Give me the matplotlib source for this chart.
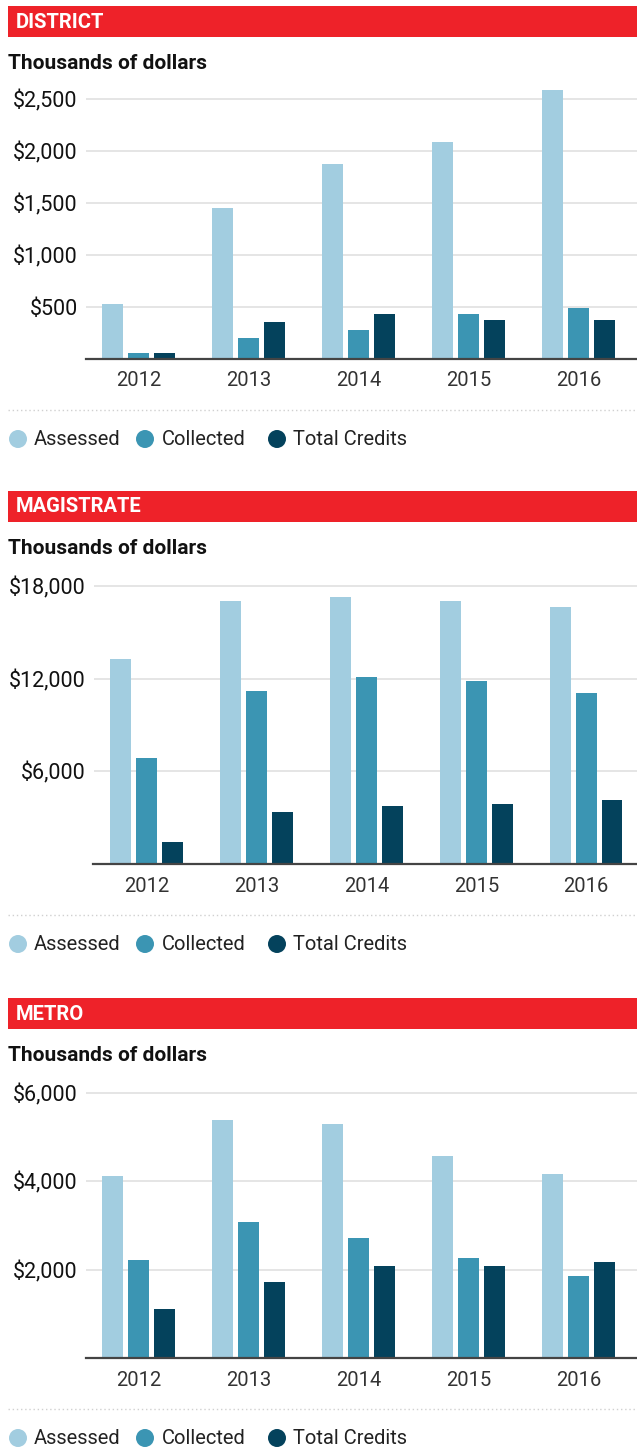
import matplotlib
matplotlib.use("Agg")
import matplotlib.pyplot as plt
from matplotlib.patches import Rectangle, Ellipse
from matplotlib.lines import Line2D
import numpy as np

plt.rcParams['font.family'] = ['Roboto', 'DejaVu Sans']

years = ["2012", "2013", "2014", "2015", "2016"]
series_names = ["Assessed", "Collected", "Total Credits"]
colors = ["#a2cde0", "#3b95b3", "#04425c"]

district_assessed = [530, 1455, 1875, 2090, 2590]
district_collected = [55, 205, 280, 435, 490]
district_credits = [55, 357, 433, 377, 377]

magistrate_assessed = [13250, 17000, 17270, 17000, 16620]
magistrate_collected = [6880, 11180, 12090, 11830, 11050]
magistrate_credits = [1400, 3345, 3735, 3865, 4120]

metro_assessed = [4120, 5390, 5300, 4580, 4170]
metro_collected = [2210, 3080, 2710, 2260, 1850]
metro_credits = [1120, 1710, 2080, 2080, 2170]

district_ticks = [500, 1000, 1500, 2000, 2500]
magistrate_ticks = [6000, 12000, 18000]
metro_ticks = [2000, 4000, 6000]

W, H = 637, 1448
fig = plt.figure(figsize=(W / 100, H / 100), dpi=100)


def fx(x):
    return x / W


def fy(y):
    return 1 - y / H


panels = [
    dict(title="DISTRICT", top=6, data=[district_assessed, district_collected, district_credits],
         ticks=district_ticks, left=86, grid_top=99, top_val=2500, base=359, ymax=2650,
         xlim=(-0.476, 4.529)),
    dict(title="MAGISTRATE", top=491, data=[magistrate_assessed, magistrate_collected, magistrate_credits],
         ticks=magistrate_ticks, left=93.5, grid_top=586, top_val=18000, base=864, ymax=18250,
         xlim=(-0.483, 4.462)),
    dict(title="METRO", top=998, data=[metro_assessed, metro_collected, metro_credits],
         ticks=metro_ticks, left=86, grid_top=1093, top_val=6000, base=1358, ymax=6100,
         xlim=(-0.476, 4.529)),
]

bar_w = 0.19
offset = 0.235

for p in panels:
    t = p["top"]
    # red banner
    fig.patches.append(Rectangle((fx(8), fy(t + 31)), fx(629), 31 / H, transform=fig.transFigure,
                                 facecolor="#ee2229", edgecolor="none"))
    fig.text(fx(16), fy(t + 16), p["title"], color="white", fontsize=14.5, fontweight="bold",
             va="center", ha="left")
    fig.text(fx(8), fy(t + 57.5), "Thousands of dollars", color="#111111", fontsize=15,
             fontweight="bold", va="center", ha="left")

    scale = (p["base"] - p["grid_top"]) / p["top_val"]
    ax_top = p["base"] - p["ymax"] * scale
    ax = fig.add_axes([fx(p["left"]), fy(p["base"]), fx(637 - p["left"]), (p["base"] - ax_top) / H])
    x = np.arange(len(years))
    for i, (vals, c) in enumerate(zip(p["data"], colors)):
        ax.bar(x + (i - 1) * offset, vals, width=bar_w, color=c, zorder=3)
    ax.set_xlim(*p["xlim"])
    ax.set_ylim(0, p["ymax"])
    ax.set_yticks(p["ticks"])
    ax.set_yticklabels(["${:,}".format(v) for v in p["ticks"]], fontsize=15.5, color="#111111")
    ax.set_xticks(x)
    ax.set_xticklabels(years, fontsize=14.5, color="#333333")
    ax.tick_params(axis="both", length=0)
    ax.tick_params(axis="y", pad=6)
    ax.tick_params(axis="x", pad=9)
    ax.grid(axis="y", color="#e3e3e3", linewidth=1.3, zorder=0)
    ax.grid(axis="x", visible=False)
    for s in ["top", "right", "left"]:
        ax.spines[s].set_visible(False)
    ax.spines["bottom"].set_color("#444444")
    ax.spines["bottom"].set_linewidth(1.6)
    ax.spines["bottom"].set_zorder(4)
    ax.set_facecolor("none")

    # dotted separator
    sep_y = p["base"] + 51
    fig.lines.append(Line2D([fx(8), fx(637)], [fy(sep_y), fy(sep_y)], transform=fig.transFigure,
                            color="#d0d0d0", linewidth=1.0, linestyle=(0, (1, 2))))
    # legend
    leg_y = p["base"] + 80
    circ_x = [18, 145, 277]
    text_x = [34, 162, 293]
    for cx, tx, name, c in zip(circ_x, text_x, series_names, colors):
        fig.patches.append(Ellipse((fx(cx), fy(leg_y)), width=18 / W, height=18 / H,
                                   transform=fig.transFigure, facecolor=c, edgecolor="none"))
        fig.text(fx(tx), fy(leg_y), name, fontsize=14.5, color="#222222", va="center", ha="left")

fig.savefig("out.png", dpi=100)
